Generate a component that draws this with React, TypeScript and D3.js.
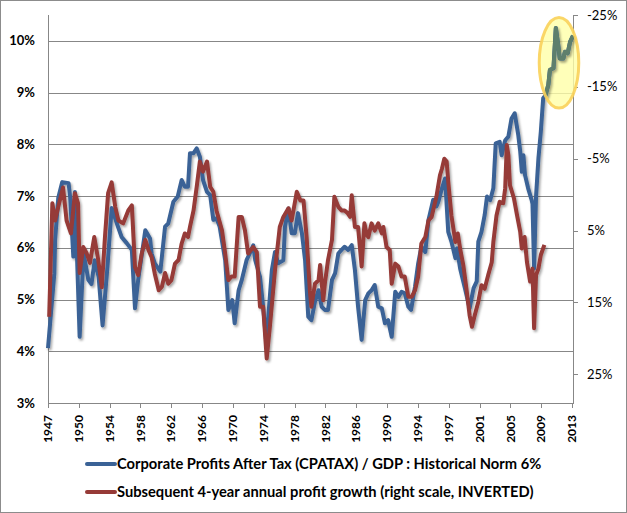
import React, { useEffect, useRef } from 'react';
import * as d3 from 'd3';

// [year, % of GDP] - corporate profits after tax / GDP (left scale)
const corpProfitsGdp: [number, number][] = [
  [1947.0, 4.06], [1947.8, 5.5], [1947.9, 6.15], [1948.3, 6.97], [1948.8, 7.27], [1949.6, 7.25],
  [1949.8, 6.98], [1950.2, 5.83], [1950.4, 7.08], [1951.0, 4.28], [1951.5, 5.9], [1952.1, 5.38],
  [1952.5, 5.3], [1952.9, 5.76], [1953.4, 5.44], [1953.9, 4.5], [1954.5, 5.6], [1955.05, 6.77],
  [1955.7, 6.47], [1956.3, 6.21], [1956.95, 6.09], [1957.6, 5.96], [1958.0, 4.83], [1958.4, 5.38],
  [1959.3, 6.34], [1959.9, 6.18], [1960.1, 5.89], [1960.5, 5.7], [1961.2, 5.54], [1961.8, 6.41],
  [1962.2, 6.47], [1962.85, 6.89], [1963.4, 6.99], [1963.9, 7.31], [1964.3, 7.18], [1964.7, 7.18],
  [1964.95, 7.83], [1965.4, 7.83], [1965.8, 7.92], [1966.2, 7.76], [1966.6, 7.31], [1967.1, 7.08],
  [1967.5, 7.02], [1967.9, 6.54], [1968.3, 6.57], [1968.7, 6.41], [1969.4, 5.76], [1969.8, 4.8],
  [1970.3, 4.99], [1970.6, 4.54], [1971.1, 5.18], [1971.5, 5.38], [1972.1, 5.76], [1972.5, 5.89],
  [1972.95, 6.05], [1973.2, 5.76], [1973.8, 5.44], [1974.2, 4.86], [1974.6, 4.16], [1975.3, 5.57],
  [1975.7, 5.92], [1976.1, 5.7], [1976.75, 5.76], [1976.96, 6.41], [1977.4, 6.76], [1977.8, 6.28],
  [1978.2, 6.28], [1978.6, 6.67], [1979.1, 6.28], [1979.5, 5.76], [1979.9, 4.67], [1980.3, 4.6],
  [1980.75, 4.96], [1981.2, 5.18], [1981.6, 4.86], [1982.0, 4.8], [1982.4, 4.8], [1982.9, 5.38],
  [1983.3, 5.51], [1983.7, 5.89], [1984.1, 5.96], [1984.5, 6.02], [1984.95, 5.96], [1985.4, 6.05],
  [1985.8, 5.57], [1986.2, 4.86], [1986.65, 4.22], [1987.1, 4.99], [1987.5, 5.12], [1987.9, 5.18],
  [1988.3, 5.28], [1988.75, 4.86], [1989.2, 4.83], [1989.6, 4.54], [1990.0, 4.6], [1990.45, 4.28],
  [1990.9, 5.15], [1991.3, 5.05], [1991.7, 5.15], [1992.1, 5.12], [1992.55, 4.86], [1992.9, 4.8],
  [1993.4, 5.25], [1993.8, 5.7], [1994.2, 6.02], [1994.7, 5.92], [1995.1, 6.54], [1995.7, 6.93],
  [1996.1, 6.8], [1996.35, 6.89], [1996.8, 7.15], [1997.2, 7.34], [1997.6, 6.31], [1998.0, 6.12],
  [1998.5, 5.8], [1998.7, 5.99], [1999.1, 5.6], [1999.7, 5.22], [2000.3, 4.83], [2000.8, 5.22],
  [2001.2, 5.35], [2001.4, 6.12], [2001.8, 6.31], [2002.2, 6.63], [2002.5, 6.99], [2002.9, 6.92],
  [2003.3, 7.15], [2003.6, 8.02], [2004.1, 8.05], [2004.35, 7.79], [2004.8, 8.08], [2005.2, 8.15],
  [2005.6, 8.5], [2006.0, 8.6], [2006.45, 8.18], [2006.7, 7.86], [2006.9, 7.47], [2007.1, 7.79],
  [2007.3, 7.41], [2007.7, 7.15], [2008.15, 6.92], [2008.25, 6.85], [2008.45, 5.6], [2008.7, 7.0],
  [2009.0, 7.73], [2009.3, 8.24], [2009.6, 8.89], [2009.9, 8.95], [2010.25, 9.15], [2010.45, 9.44],
  [2010.9, 9.47], [2011.2, 10.25], [2011.5, 9.92], [2011.7, 9.66], [2012.15, 9.66], [2012.35, 9.79],
  [2012.7, 9.76], [2013.0, 9.98], [2013.37, 10.1],
];

// [year, %] - subsequent 4-year annual profit growth (right scale, inverted)
const profitGrowth4y: [number, number][] = [
  [1947.15, 17.0], [1947.55, 1.2], [1947.9, 3.6], [1948.3, 1.7], [1948.9, -1.0], [1949.35, 3.6],
  [1949.9, 5.4], [1950.4, -0.2], [1950.8, 1.2], [1951.0, 10.9], [1951.45, 7.3], [1951.9, 8.2],
  [1952.3, 9.5], [1952.85, 5.9], [1953.35, 9.1], [1953.8, 12.9], [1954.2, 5.9], [1954.6, -0.2],
  [1955.05, -1.7], [1955.5, 1.7], [1955.9, 3.6], [1956.5, 4.0], [1957.15, 2.2], [1957.6, 1.5],
  [1958.0, 10.1], [1958.4, 11.2], [1958.85, 8.2], [1959.3, 6.3], [1959.7, 7.7], [1960.1, 8.7],
  [1960.5, 11.0], [1961.0, 13.3], [1961.4, 12.8], [1961.8, 10.9], [1962.2, 12.4], [1962.6, 11.9],
  [1963.05, 9.6], [1963.5, 9.1], [1963.9, 6.8], [1964.3, 5.4], [1964.7, 5.9], [1964.95, 4.5],
  [1965.4, 2.2], [1965.8, -1.1], [1966.2, -4.6], [1966.6, -3.2], [1967.1, -4.6], [1967.5, -1.1],
  [1967.9, -0.4], [1968.3, 2.2], [1969.0, 5.0], [1969.4, 8.2], [1969.8, 11.9], [1970.2, 11.4],
  [1970.6, 11.4], [1971.1, 3.1], [1971.5, 3.1], [1971.9, 5.0], [1972.3, 8.2], [1972.95, 7.3],
  [1973.4, 8.0], [1973.8, 15.6], [1974.2, 15.6], [1974.65, 22.8], [1975.05, 18.4], [1975.7, 10.5],
  [1976.3, 4.5], [1976.75, 3.1], [1977.4, 1.9], [1977.8, 3.6], [1978.45, -0.4], [1978.9, 0.8],
  [1979.3, 0.8], [1979.7, 6.0], [1980.1, 13.3], [1980.3, 15.6], [1980.75, 12.4], [1981.2, 11.9],
  [1981.4, 9.8], [1981.8, 14.7], [1982.0, 12.4], [1982.4, 9.1], [1982.9, 6.3], [1983.2, 0.3],
  [1983.7, 1.7], [1984.1, 2.2], [1984.5, 2.2], [1984.9, 2.6], [1985.2, 3.1], [1985.4, 0.1],
  [1985.8, 4.5], [1986.2, 4.5], [1986.65, 10.0], [1987.0, 4.0], [1987.3, 5.6], [1987.5, 5.9],
  [1987.9, 4.0], [1988.3, 5.0], [1988.75, 4.0], [1989.2, 5.4], [1989.4, 4.5], [1989.8, 7.3],
  [1990.2, 7.7], [1990.45, 12.4], [1990.9, 9.6], [1991.3, 10.0], [1991.7, 11.4], [1992.1, 11.4],
  [1992.55, 14.2], [1993.0, 14.2], [1993.4, 13.3], [1993.8, 11.4], [1994.2, 6.8], [1994.7, 5.9],
  [1995.1, 3.6], [1995.5, 3.1], [1996.1, 0.3], [1996.55, -2.7], [1996.8, -3.6], [1997.1, -5.0],
  [1997.4, -4.6], [1997.6, -1.8], [1998.0, 2.9], [1998.5, 6.6], [1998.8, 5.4], [1999.1, 7.5],
  [1999.5, 9.8], [1999.9, 13.1], [2000.3, 16.8], [2000.6, 18.4], [2000.95, 16.8], [2001.4, 14.9],
  [2001.8, 12.6], [2002.2, 13.1], [2002.65, 11.2], [2003.1, 9.4], [2003.3, 6.6], [2003.7, 2.9],
  [2004.1, 1.0], [2004.55, 1.2], [2004.8, -0.9], [2005.0, -6.9], [2005.2, -5.5], [2005.4, -1.3],
  [2005.9, 0.5], [2006.3, 2.9], [2006.7, 5.2], [2006.9, 7.5], [2007.25, 5.9], [2007.55, 9.4],
  [2007.95, 12.1], [2008.25, 10.3], [2008.45, 18.6], [2008.7, 11.2], [2009.0, 10.3], [2009.3, 8.4],
  [2009.75, 7.0],
];

const yearLabels = ['1947', '1950', '1954', '1958', '1962', '1966', '1970', '1974', '1978', '1982',
  '1986', '1990', '1994', '1997', '2001', '2005', '2009', '2013'];
const leftTicks = [3, 4, 5, 6, 7, 8, 9, 10];
const rightTicks = [-25, -15, -5, 5, 15, 25];

const seriesNames = [
  'Corporate Profits After Tax (CPATAX) / GDP : Historical Norm 6%',
  'Subsequent 4-year annual profit growth (right scale, INVERTED)',
];
const seriesColors = ['#3A6296', '#963A37'];
const highlightColor = '#5E7F6C';

// highlighted region (year range, left-scale value range) and where the recoloured line starts
const highlight = { x0: 2009.1, x1: 2014.1, y0: 8.7, y1: 10.45, from: 2009.9 };

const W = 627;
const H = 513;

const App: React.FC = () => {
  const svgRef = useRef<SVGSVGElement>(null);

  useEffect(() => {
    document.body.style.margin = '0';
    if (!svgRef.current) return;
    const svg = d3.select(svgRef.current);
    svg.selectAll('*').remove();

    const margin = { top: 15, right: 54, bottom: 110, left: 48 };
    const x0 = margin.left;
    const x1 = W - margin.right;
    const y0 = margin.top;
    const y1 = H - margin.bottom;
    const font = 'Lato, "Open Sans", sans-serif';

    const x = d3.scaleLinear().domain([1947, 2013.37]).range([x0, x1]);
    const yLeft = d3.scaleLinear().domain([3, 10.5]).range([y1, y0]);
    const yRight = d3.scaleLinear().domain([-25, 29]).range([y0, y1]);
    const xTicks = d3.scalePoint<string>().domain(yearLabels).range([x0, x1 - 1]);

    const defs = svg.append('defs');
    const shadow = defs.append('filter').attr('id', 'shadow')
      .attr('x', '-5%').attr('y', '-5%').attr('width', '110%').attr('height', '110%');
    shadow.append('feDropShadow')
      .attr('dx', 1.5).attr('dy', 2).attr('stdDeviation', 1.2)
      .attr('flood-color', '#000').attr('flood-opacity', 0.35);

    // background + outer border
    svg.append('rect')
      .attr('x', 0.5).attr('y', 0.5).attr('width', W - 1).attr('height', H - 1)
      .attr('fill', '#fff').attr('stroke', '#8c8c8c');

    // horizontal gridlines
    svg.append('g')
      .selectAll('line')
      .data(leftTicks.filter(t => t > 3))
      .enter()
      .append('line')
      .attr('x1', x0).attr('x2', x1)
      .attr('y1', d => Math.round(yLeft(d)) + 0.5)
      .attr('y2', d => Math.round(yLeft(d)) + 0.5)
      .attr('stroke', '#878787');

    // axes lines
    const axisColor = '#878787';
    svg.append('line').attr('x1', x0 + 0.5).attr('x2', x0 + 0.5).attr('y1', y0).attr('y2', y1)
      .attr('stroke', axisColor);
    svg.append('line').attr('x1', x1 + 0.5).attr('x2', x1 + 0.5).attr('y1', y0).attr('y2', y1)
      .attr('stroke', axisColor);
    svg.append('line').attr('x1', x0).attr('x2', x1 + 1).attr('y1', y1 + 0.5).attr('y2', y1 + 0.5)
      .attr('stroke', axisColor);

    // left labels
    svg.append('g')
      .selectAll('text')
      .data(leftTicks)
      .enter()
      .append('text')
      .attr('x', 35)
      .attr('y', d => yLeft(d))
      .attr('dy', '0.35em')
      .attr('text-anchor', 'end')
      .style('font-family', font)
      .style('font-size', '13px')
      .style('font-weight', 'bold')
      .text(d => `${d}%`);

    // right ticks + labels
    const right = svg.append('g');
    right.selectAll('line')
      .data(rightTicks)
      .enter()
      .append('line')
      .attr('x1', x1).attr('x2', x1 + 5)
      .attr('y1', d => Math.round(yRight(d)) + 0.5)
      .attr('y2', d => Math.round(yRight(d)) + 0.5)
      .attr('stroke', axisColor);
    right.selectAll('text')
      .data(rightTicks)
      .enter()
      .append('text')
      .attr('x', x1 + 14)
      .attr('y', d => yRight(d))
      .attr('dy', '0.35em')
      .style('font-family', font)
      .style('font-size', '13px')
      .text(d => `${d}%`);

    // bottom ticks + rotated year labels
    const bottom = svg.append('g');
    bottom.selectAll('line')
      .data(yearLabels)
      .enter()
      .append('line')
      .attr('x1', d => Math.round(xTicks(d) as number) + 0.5)
      .attr('x2', d => Math.round(xTicks(d) as number) + 0.5)
      .attr('y1', y1).attr('y2', y1 + 5)
      .attr('stroke', axisColor);
    bottom.selectAll('text')
      .data(yearLabels)
      .enter()
      .append('text')
      .attr('transform', d => `translate(${xTicks(d)},${y1 + 12}) rotate(-90)`)
      .attr('dy', '0.35em')
      .attr('text-anchor', 'end')
      .style('font-family', font)
      .style('font-size', '12px')
      .style('font-weight', 'bold')
      .text(d => d);

    // highlight ellipse fill (under the lines)
    const ex0 = x(highlight.x0);
    const ex1 = x(highlight.x1);
    const ey0 = yLeft(highlight.y1);
    const ey1 = yLeft(highlight.y0);
    const ellipse = {
      cx: (ex0 + ex1) / 2,
      cy: (ey0 + ey1) / 2,
      rx: (ex1 - ex0) / 2,
      ry: (ey1 - ey0) / 2,
    };
    svg.append('ellipse')
      .attr('cx', ellipse.cx).attr('cy', ellipse.cy)
      .attr('rx', ellipse.rx).attr('ry', ellipse.ry)
      .attr('fill', '#FFFFA8')
      .attr('fill-opacity', 0.8);

    // lines
    const blueLine = d3.line<[number, number]>()
      .x(d => x(d[0]))
      .y(d => yLeft(d[1]));
    const redLine = d3.line<[number, number]>()
      .x(d => x(d[0]))
      .y(d => yRight(d[1]));

    const lines = svg.append('g').attr('filter', 'url(#shadow)');
    lines.append('path')
      .datum(corpProfitsGdp)
      .attr('fill', 'none')
      .attr('stroke', seriesColors[0])
      .attr('stroke-width', 4)
      .attr('stroke-linejoin', 'round')
      .attr('d', blueLine);
    lines.append('path')
      .datum(profitGrowth4y)
      .attr('fill', 'none')
      .attr('stroke', seriesColors[1])
      .attr('stroke-width', 4)
      .attr('stroke-linejoin', 'round')
      .attr('d', redLine);
    lines.append('path')
      .datum(corpProfitsGdp.filter(d => d[0] >= highlight.from))
      .attr('fill', 'none')
      .attr('stroke', highlightColor)
      .attr('stroke-width', 4)
      .attr('stroke-linejoin', 'round')
      .attr('d', blueLine);

    // highlight ring (over the lines)
    svg.append('ellipse')
      .attr('cx', ellipse.cx).attr('cy', ellipse.cy)
      .attr('rx', ellipse.rx).attr('ry', ellipse.ry)
      .attr('fill', 'none')
      .attr('stroke', '#FAD25A')
      .attr('stroke-opacity', 0.9)
      .attr('stroke-width', 3);

    // legend
    const legend = svg.append('g');
    seriesNames.forEach((name, i) => {
      const ly = 464 + i * 28;
      legend.append('line')
        .attr('x1', 87).attr('x2', 115)
        .attr('y1', ly).attr('y2', ly)
        .attr('stroke', seriesColors[i])
        .attr('stroke-width', 4)
        .attr('stroke-linecap', 'round');
      legend.append('text')
        .attr('x', 117)
        .attr('y', ly)
        .attr('dy', '0.35em')
        .style('font-family', font)
        .style('font-size', '14.7px')
        .style('font-weight', 'bold')
        .text(name);
    });
  }, []);

  return <svg ref={svgRef} width={W} height={H} style={{ display: 'block' }} />;
};

export default App;
